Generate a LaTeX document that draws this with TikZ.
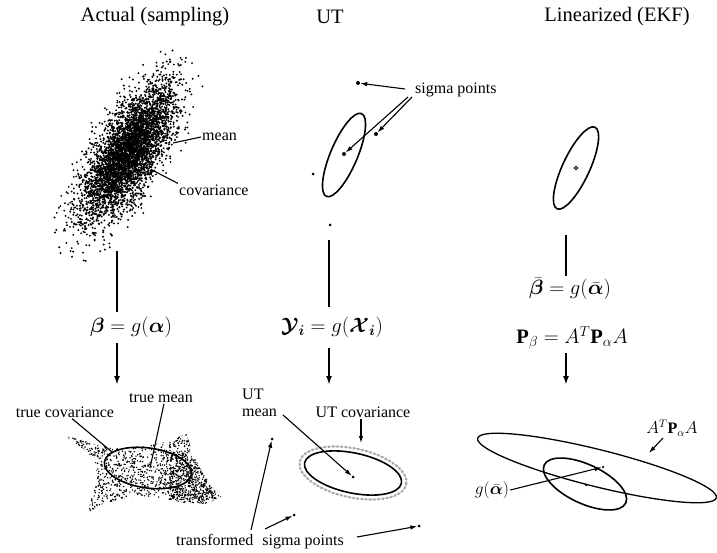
\documentclass[tikz,border=0pt]{standalone}
\usepackage{fontspec}
\setmainfont{Liberation Serif}
\usepackage{amsmath,bm}
\usetikzlibrary{arrows.meta}
\begin{document}
\begin{tikzpicture}[x=1pt,y=-1pt,
  title/.style={font=\fontsize{20.5}{24}\selectfont, inner sep=0pt},
  lbl/.style={font=\fontsize{16}{17}\selectfont, inner sep=1pt},
  eq/.style={font=\fontsize{20.5}{24}\selectfont, inner sep=0pt},
  conn/.style={line width=1.1pt},
  arr/.style={line width=1.1pt, -{Latex[length=7pt,width=4.5pt]}},
  varr/.style={line width=1.8pt, -{Latex[length=9pt,width=6pt]}},
  vline/.style={line width=1.8pt},
  ell/.style={line width=1.6pt},
  sdot/.style={circle, fill, inner sep=0pt, minimum size=4pt},
  mdot/.style={circle, fill, inner sep=0pt, minimum size=3pt},
]
\useasboundingbox (0,0) rectangle (717,553);

% ---------- titles ----------
\node[title] (t1) at (155,17) {Actual (sampling)};
\node[title] (t2) at (330,17) {UT};
\node[title] (t3) at (617,17) {Linearized (EKF)};

% ---------- sampled cloud (top left) ----------
\pgfmathsetseed{42}
\foreach \i in {1,...,4500}{
  \pgfmathsetmacro\myr{sqrt(-2*ln(0.004+0.995*rnd))}
  \pgfmathsetmacro\myt{360*rnd}
  \pgfmathsetmacro\myu{\myr*cos(\myt)}
  \pgfmathsetmacro\myv{\myr*sin(\myt)}
  \fill ({128+38*\myu*0.5-14.5*\myv*0.866},{152-(38*\myu*0.866+14.5*\myv*0.5)}) circle (1.05pt);
}
\node[lbl, anchor=west] (mean) at (201,137) {mean};
\node[lbl, anchor=west] (cov) at (178,190) {covariance};
\coordinate (meanpt) at (173,143);
\coordinate (covpt) at (152,170);
\draw[conn] (meanpt) -- (mean.west);
\draw[conn] (covpt) -- (cov.north west);

% ---------- UT sigma points (top middle) ----------
\draw[ell, rotate around={67:(344,155)}] (344,155) ellipse [x radius=45pt, y radius=13.5pt];
\node[sdot] (s1) at (358,83) {};
\node[sdot] (s2) at (376,134) {};
\node[sdot] (s3) at (344,154) {};
\node[mdot] (s4) at (313,174) {};
\node[mdot] (s5) at (330,225) {};
\node[lbl, anchor=west] (sp) at (414,90) {sigma points};
\coordinate (sa1) at (405,89);
\coordinate (sa2) at (408,97);
\coordinate (sa3) at (412,97);
\draw[arr] (sa1) -- (s1);
\draw[arr] (sa2) -- (s3);
\draw[arr] (sa3) -- (s2);

% ---------- EKF prior (top right) ----------
\draw[ell, rotate around={65:(576,168)}] (576,168) ellipse [x radius=45pt, y radius=13.5pt];
\node[circle, draw, line width=0.8pt, inner sep=0pt, minimum size=3.5pt] (emean) at (576,168) {};

% ---------- middle band ----------
\coordinate (la1) at (117,251);
\coordinate (la2) at (117,312);
\coordinate (la3) at (117,343);
\coordinate (la4) at (117,385);
\node[eq] (eqA) at (131,327) {$\bm{\beta}=g(\bm{\alpha})$};
\draw[vline] (la1) -- (la2);
\draw[varr] (la3) -- (la4);

\coordinate (lu1) at (329,240);
\coordinate (lu2) at (329,307);
\coordinate (lu3) at (329,348);
\coordinate (lu4) at (329,385);
\node[eq] (eqU) at (332,327) {$\bm{\mathcal{Y}_i}=g(\bm{\mathcal{X}_i})$};
\draw[vline] (lu1) -- (lu2);
\draw[varr] (lu3) -- (lu4);

\coordinate (le1) at (566,235);
\coordinate (le2) at (566,276);
\coordinate (le3) at (566,353);
\coordinate (le4) at (566,385);
\node[eq] (eqE1) at (570,289) {$\bar{\bm{\beta}}=g(\bar{\bm{\alpha}})$};
\node[eq] (eqE2) at (572,338) {$\mathbf{P}_{\beta}=A^{T}\mathbf{P}_{\alpha}A$};
\draw[vline] (le1) -- (le2);
\draw[varr] (le3) -- (le4);

% ---------- transformed samples (bottom left) ----------
\begin{scope}
\clip (66,436) -- (82,440) -- (100,446) -- (120,448) -- (145,446) -- (165,442) -- (187,434)
  -- (192,452) -- (200,468) -- (210,484) -- (221,497) -- (205,504) -- (185,503) -- (160,498)
  -- (140,496) -- (120,499) -- (100,505) -- (88,513) -- (92,495) -- (97,478) -- (95,462)
  -- (85,450) -- (72,441) -- cycle;
\foreach \i in {1,...,2000}{
  \fill ({60+162*rnd},{430+85*rnd}) circle (0.8pt);
}
\foreach \i in {1,...,450}{
  \fill ({170+45*rnd},{455+45*rnd}) circle (0.8pt);
}
\end{scope}
\draw[ell, rotate around={-8:(148,468)}] (148,468) ellipse [x radius=44pt, y radius=20pt];
\node[lbl] (tcov) at (65,412) {true covariance};
\node[lbl] (tmean) at (161,398) {true mean};
\coordinate (tcovpt) at (112,452);
\coordinate (tmeanpt) at (150,468);
\draw[conn] ([xshift=-2pt]tcov.south) ++(9,0) -- (tcovpt);
\draw[conn] (tmean.south) ++(3,0) -- (tmeanpt);

% ---------- UT result (bottom middle) ----------
\draw[line width=2.2pt, gray!70, dotted, rotate around={-12:(353,473)}] (353,473) ellipse [x radius=54.5pt, y radius=24.5pt];
\draw[line width=0.6pt, gray!60, rotate around={-12:(353,473)}] (353,473) ellipse [x radius=54.5pt, y radius=24.5pt];
\draw[ell, rotate around={-12:(353,473)}] (353,473) ellipse [x radius=49.5pt, y radius=20pt];
\node[mdot] (um) at (353,477) {};
\node[mdot] (y1) at (272,439) {};
\node[mdot] (y2) at (294,515) {};
\node[mdot] (y3) at (419,526) {};
\node[lbl, align=left, anchor=west] (utm) at (241,403) {UT\\mean};
\node[lbl] (utc) at (363,412) {UT covariance};
\coordinate (utcpt) at (361,443);
\draw[arr] (utc.south) ++(-2,0) -- (utcpt);
\coordinate (utms) at (283,415);
\draw[arr] (utms) -- (um);
\node[lbl] (tsp) at (260,542) {transformed\hspace{5pt} sigma points};
\coordinate (ta1) at (251,530);
\coordinate (ta2) at (265,529);
\coordinate (ta3) at (357,537);
\draw[arr] (ta1) -- (y1);
\draw[arr] (ta2) -- (y2);
\draw[arr] (ta3) -- (y3);

% ---------- EKF result (bottom right) ----------
\draw[ell, line width=1.3pt, rotate around={-14:(597,468)}] (597,468) ellipse [x radius=123pt, y radius=18.5pt];
\draw[ell, rotate around={-25:(585,484)}] (585,484) ellipse [x radius=45pt, y radius=19.5pt];
\node[mdot, minimum size=2.5pt] (ed1) at (603,467) {};
\node[mdot, minimum size=2.5pt] (ed2) at (586,485) {};
\node[lbl] (atpa) at (672,428) {$A^{T}\mathbf{P}_{\alpha}A$};
\coordinate (atpapt) at (649,453);
\draw[arr] (663,438) -- (atpapt);
\node[lbl] (galpha) at (492,490) {$g(\bar{\bm{\alpha}})$};
\draw[arr] (galpha.east) -- (ed1);
\end{tikzpicture}
\end{document}
